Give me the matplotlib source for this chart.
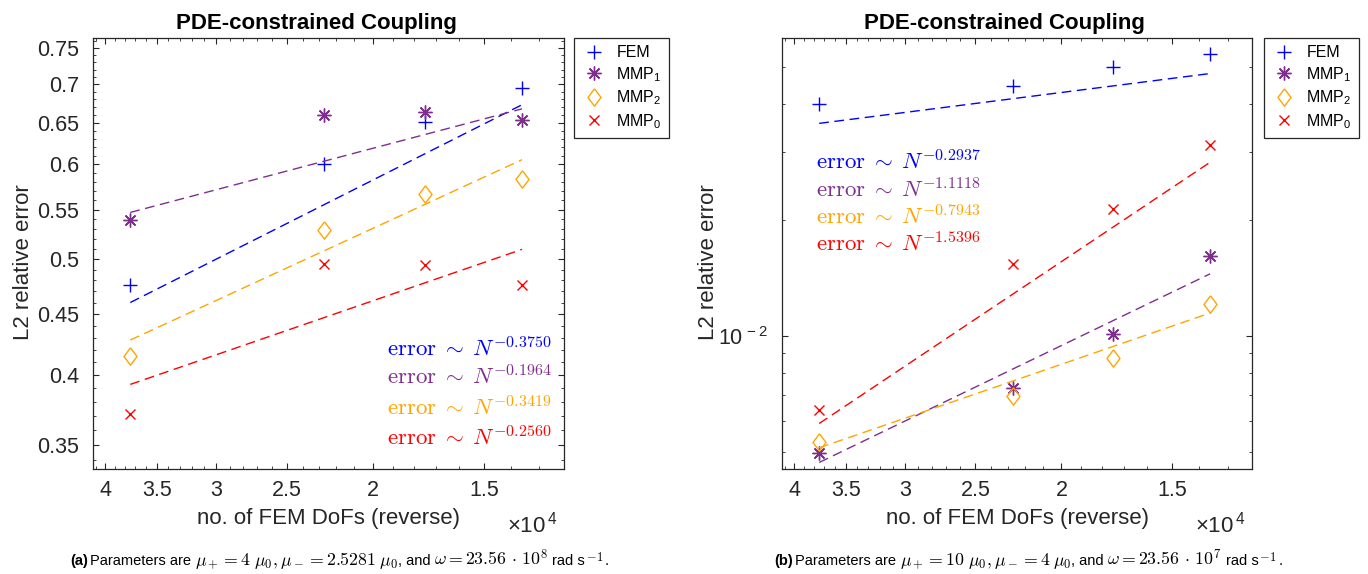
import numpy as np
import matplotlib
matplotlib.use("Agg")
import matplotlib.pyplot as plt
from matplotlib.ticker import FixedLocator, FuncFormatter, NullFormatter

plt.rcParams["font.family"] = ["Liberation Sans", "DejaVu Sans"]
plt.rcParams["mathtext.fontset"] = "cm"

# ---- data ----
dofs = [37500, 22700, 17500, 13600]

names = ["FEM", r"MMP$\mathregular{_1}$", r"MMP$\mathregular{_2}$", r"MMP$\mathregular{_0}$"]

# panel (a)
fem_a = [0.476, 0.600, 0.651, 0.695]
mmp1_a = [0.539, 0.660, 0.663, 0.654]
mmp2_a = [0.415, 0.529, 0.567, 0.583]
mmp0_a = [0.371, 0.495, 0.494, 0.476]
rates_a = ["-0.3750", "-0.1964", "-0.3419", "-0.2560"]
fit_start_a = [0.460, 0.547, 0.428, 0.393]   # fitted line value at the first point

# panel (b)
fem_b = [0.0399, 0.0446, 0.0498, 0.0538]
mmp1_b = [0.00497, 0.00732, 0.0101, 0.0161]
mmp2_b = [0.00529, 0.00698, 0.00878, 0.0121]
mmp0_b = [0.00643, 0.0154, 0.0213, 0.0312]
rates_b = ["-0.2937", "-1.1118", "-0.7943", "-1.5396"]
fit_start_b = [0.0356, 0.00469, 0.00512, 0.00592]

xticks = [4, 3.5, 3, 2.5, 2, 1.5]
xminor = [1.3, 1.4, 1.6, 1.7, 1.8, 1.9, 2.1, 2.2, 2.3, 2.4, 2.6, 2.7, 2.8, 2.9,
          3.1, 3.2, 3.3, 3.4, 3.6, 3.7, 3.8, 3.9, 4.1]
yticks_a = [0.35, 0.4, 0.45, 0.5, 0.55, 0.6, 0.65, 0.7, 0.75]
yminor_a = [0.34, 0.36, 0.37, 0.38, 0.39, 0.41, 0.42, 0.43, 0.44, 0.46, 0.47, 0.48,
            0.49, 0.51, 0.52, 0.53, 0.54, 0.56, 0.57, 0.58, 0.59, 0.61, 0.62, 0.63,
            0.64, 0.66, 0.67, 0.68, 0.69, 0.71, 0.72, 0.73, 0.74, 0.76]
yticks_b = [0.01]
yminor_b = [0.005, 0.006, 0.007, 0.008, 0.009, 0.02, 0.03, 0.04, 0.05]

# caption pieces: (text, kind, gap before in px)
caption_a = [("(a)", "tag", 0), ("Parameters are", "text", 2),
             (r"$\mu_+ = 4\;\mu_0, \mu_- = 2.5281\;\mu_0$", "math", 4),
             (", and", "text", 0), (r"$\omega = 23.56\,\cdot\,10^8$", "math", 3),
             ("rad s", "text", 4), (r"$^{-1}$", "math", 1), (".", "text", 1)]
caption_b = [("(b)", "tag", 0), ("Parameters are", "text", 2),
             (r"$\mu_+ = 10\;\mu_0, \mu_- = 4\;\mu_0$", "math", 4),
             (", and", "text", 0), (r"$\omega = 23.56\,\cdot\,10^7$", "math", 3),
             ("rad s", "text", 4), (r"$^{-1}$", "math", 1), (".", "text", 1)]

# ---- styles ----
colors = ["#0000ff", "#7e2f8e", "#ffa500", "#ff0000"]
diamond = [(0, 1), (0.75, 0), (0, -1), (-0.75, 0), (0, 1)]
markers = ["+", (8, 2, 0), diamond, "x"]
msizes = [10, 10, 12.5, 7.5]
dark = "#262626"

W, H = 1368, 574
fig = plt.figure(figsize=(W / 100, H / 100), dpi=100)


def panel(ax_px, series, rates, fit_start, yt, ym, yfmt, ylim, text_xy, text_ha,
          leg_x, ylab_x):
    x0, x1 = ax_px
    ax = fig.add_axes([x0 / W, (H - 469) / H, (x1 - x0) / W, 431 / H])
    ax.set_xscale("log")
    ax.set_yscale("log")

    n = np.array(dofs, dtype=float)
    for vals, r, c0, c, m, ms, lab in zip(series, rates, fit_start, colors,
                                          markers, msizes, names):
        ax.plot(dofs, vals, linestyle="none", marker=m, ms=ms, mew=1.0,
                mfc="none", mec=c, label=lab)
        ax.plot(n, c0 * (n / n[0]) ** float(r), color=c, lw=1.0,
                linestyle=(0, (7, 4)))

    ax.set_xlim(4.13e4, 1.22e4)
    ax.set_ylim(*ylim)

    ax.xaxis.set_major_locator(FixedLocator([t * 1e4 for t in xticks]))
    ax.xaxis.set_minor_locator(FixedLocator([t * 1e4 for t in xminor]))
    ax.xaxis.set_major_formatter(FuncFormatter(lambda v, pos: "%g" % (v / 1e4)))
    ax.xaxis.set_minor_formatter(NullFormatter())
    ax.yaxis.set_major_locator(FixedLocator(yt))
    ax.yaxis.set_minor_locator(FixedLocator(ym))
    ax.yaxis.set_major_formatter(FuncFormatter(yfmt))
    ax.yaxis.set_minor_formatter(NullFormatter())

    ax.tick_params(which="both", direction="in", top=True, right=True,
                   colors=dark, labelsize=15.5)
    ax.tick_params(which="major", length=4.5, width=0.8)
    ax.tick_params(which="minor", length=2.5, width=0.6)
    ax.tick_params(axis="x", which="major", pad=8)
    ax.tick_params(axis="y", which="major", pad=10)
    for s in ax.spines.values():
        s.set_color(dark)
        s.set_linewidth(0.9)

    ax.set_title("PDE-constrained Coupling", fontsize=16, fontweight="bold",
                 x=0.474, pad=6.3)
    ax.set_xlabel("no. of FEM DoFs (reverse)", fontsize=16, color=dark)
    ax.xaxis.set_label_coords(0.5, (469 - 524) / 431)
    ax.xaxis.label.set_verticalalignment("baseline")
    ax.set_ylabel("L2 relative error", fontsize=16, color=dark)
    ax.yaxis.set_label_coords(ylab_x, 0.48)
    ax.yaxis.label.set_verticalalignment("baseline")

    ax.text(0.879, (469 - 532) / 431, r"$\mathregular{\times10^{\,4}}$",
            transform=ax.transAxes, fontsize=16, color=dark, va="baseline")

    tx, ty = text_xy
    for i, (r, c) in enumerate(zip(rates, colors)):
        ax.text(tx, ty[i], r"$\mathrm{error}\;\sim\;N^{%s}$" % r, color=c,
                fontsize=16.5, ha=text_ha, va="baseline", transform=ax.transAxes)

    leg = ax.legend(loc="upper left", bbox_to_anchor=(leg_x, 1.0), borderaxespad=0,
                    fontsize=11.5, fancybox=False, framealpha=1, edgecolor=dark,
                    handlelength=1.6, handletextpad=0.6, labelspacing=0.3,
                    borderpad=0.45)
    leg.get_frame().set_linewidth(0.9)
    return ax


fmt_a = lambda v, pos: "%g" % v
fmt_b = lambda v, pos: r"$\mathregular{10^{\,-2}}$"

panel((93, 564), [fem_a, mmp1_a, mmp2_a, mmp0_a], rates_a, fit_start_a,
      yticks_a, yminor_a, fmt_a, (0.334, 0.765),
      (0.9745, [0.262, 0.195, 0.125, 0.0557]), "right",
      (574 - 93) / 471, (28.6 - 93) / 471)
panel((782, 1252), [fem_b, mmp1_b, mmp2_b, mmp0_b], rates_b, fit_start_b,
      yticks_b, yminor_b, fmt_b, (0.00451, 0.0593),
      (0.0723, [0.694, 0.631, 0.568, 0.506]), "left",
      (1264 - 782) / 470, (714 - 782) / 470)

# captions: pieces laid out one after another along a common baseline
renderer = fig.canvas.get_renderer()
cap_font = ["Liberation Sans Narrow", "Liberation Sans"]
for x_px, pieces in [(70, caption_a), (774, caption_b)]:
    x = x_px
    for s, kind, gap in pieces:
        x += gap
        kw = dict(fontsize=10.5, family=cap_font, va="baseline", color="black")
        if kind == "tag":
            kw["fontweight"] = "bold"
        elif kind == "math":
            kw["fontsize"] = 12.8
        t = fig.text(x / W, 1 - 565 / H, s, **kw)
        x = t.get_window_extent(renderer).x1

fig.savefig("out.png", dpi=100)
